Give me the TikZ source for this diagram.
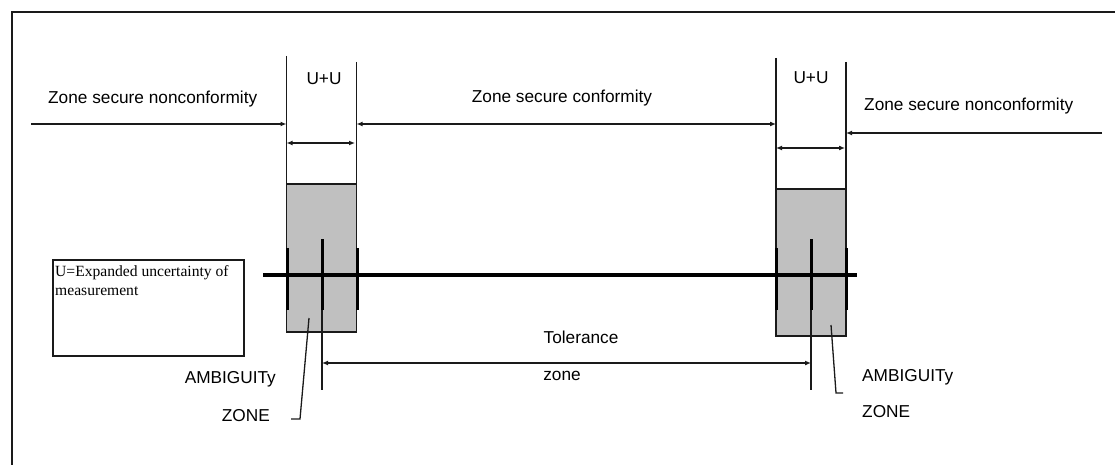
\documentclass[tikz,border=0pt]{standalone}
\usepackage{fontspec}
\setmainfont{Liberation Sans}
\newfontfamily\timesf{Liberation Serif}
\usetikzlibrary{arrows.meta}
\definecolor{boxgray}{HTML}{C0C0C0}
\definecolor{ink}{HTML}{1A1A1A}
\begin{document}
\begin{tikzpicture}[x=1pt,y=-1pt,
  ln/.style={line width=1.3pt, draw=ink},
  arr/.style={ln, -{Latex[length=6pt,width=5pt]}},
  darr/.style={ln, {Latex[length=6pt,width=5pt]}-{Latex[length=6pt,width=5pt]}},
  thick line/.style={line width=3.5pt, draw=black},
  tick/.style={line width=3pt, draw=black},
  lbl/.style={font=\fontsize{17.25}{20}\selectfont, inner sep=0pt, text=black},
  legend/.style={font=\timesf\fontsize{15.6}{19}\selectfont, inner sep=0pt, text=black},
  ambbox/.style={ln, fill=boxgray}
]
\useasboundingbox (0,0) rectangle (1115,465);
% frame
\coordinate (fbl) at (12,466);
\coordinate (ftl) at (12,12);
\coordinate (ftr) at (1116,12);
\draw[ln] (fbl) -- (ftl) -- (ftr);

% ambiguity boxes
\draw[ambbox] (286.5,184) rectangle (356.5,332);
\draw[ambbox] (776,189) rectangle (846,336);

% vertical guide lines
\coordinate (l1t) at (286.5,56);  \coordinate (l1b) at (286.5,184);
\coordinate (l2t) at (356.5,62);  \coordinate (l2b) at (356.5,184);
\coordinate (r1t) at (776,58);    \coordinate (r1b) at (776,189);
\coordinate (r2t) at (846,62);    \coordinate (r2b) at (846,189);
\draw[ln] (l1t) -- (l1b);
\draw[ln] (l2t) -- (l2b);
\draw[ln] (r1t) -- (r1b);
\draw[ln] (r2t) -- (r2b);

% main axis
\coordinate (axl) at (263,275);
\coordinate (axr) at (857,275);
\draw[thick line] (axl) -- (axr);

% ticks
\draw[tick] (287,248) -- (287,310);
\draw[tick] (357,248) -- (357,310);
\draw[tick] (322,239) -- (322,310);
\draw[ln] (322,310) -- (322,390);
\draw[tick] (776,248) -- (776,310);
\draw[tick] (846,248) -- (846,310);
\draw[tick] (811,239) -- (811,310);
\draw[ln] (811,310) -- (811,390);

% zone arrows
\coordinate (a1s) at (31,124);
\draw[arr] (a1s) -- (286.5,124);
\draw[darr] (356.5,124) -- (776,124);
\coordinate (a3s) at (1102,133);
\draw[arr] (a3s) -- (846,133);

% U+U arrows
\draw[darr] (286.5,143) -- (355,143);
\draw[darr] (776,148) -- (845,148);

% tolerance arrow
\draw[darr] (322,363) -- (811,363);

% leaders
\draw[ln] (309,318) -- (300,419) -- (291,419);
\draw[ln] (831,325) -- (836,393) -- (843,393);

% legend box
\draw[ln] (53,260) rectangle (244,356);
\node[legend, anchor=base west] (leg1) at (55,276) {U=Expanded uncertainty of};
\node[legend, anchor=base west] (leg2) at (55,295) {measurement};

% labels
\node[lbl, anchor=base west] (zsn1) at (48,104) {Zone secure nonconformity};
\node[lbl, anchor=base] (zsc) at (562,103) {Zone secure conformity};
\node[lbl, anchor=base west] (zsn2) at (864,110.5) {Zone secure nonconformity};
\node[lbl, anchor=base] (uu1) at (324,85) {U+U};
\node[lbl, anchor=base] (uu2) at (811,84) {U+U};
\node[lbl, anchor=base] (tol) at (581,343) {Tolerance};
\node[lbl, anchor=base] (zone) at (562,380) {zone};
\node[lbl, anchor=base east] (amb1) at (276,383) {AMBIGUITy};
\node[lbl, anchor=base east] (zn1) at (270,421) {ZONE};
\node[lbl, anchor=base west] (amb2) at (862,381.5) {AMBIGUITy};
\node[lbl, anchor=base west] (zn2) at (862,417) {ZONE};
\end{tikzpicture}
\end{document}
